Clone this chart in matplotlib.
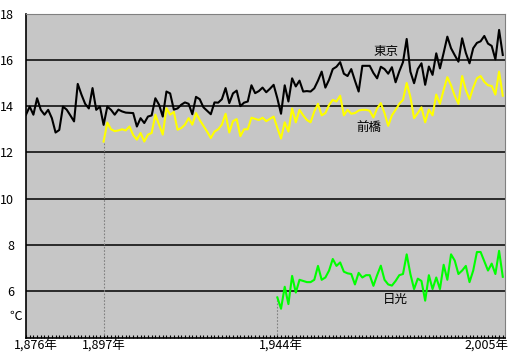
"""Annual mean temperature: Tokyo, Maebashi, Nikko (1876-2005)."""
import matplotlib
matplotlib.use("Agg")
import matplotlib.pyplot as plt
import matplotlib.transforms as mtrans
import numpy as np

plt.rcParams["font.family"] = ["Noto Sans CJK JP", "DejaVu Sans"]

BG_GRAY = "#c6c6c6"
FRAME_GRAY = "#808080"

# data
tokyo_years = np.arange(1876, 2006)
tokyo = [
    13.63, 13.98, 13.63, 14.34, 13.84, 13.63, 13.84, 13.48, 12.86, 12.97,
    13.98, 13.85, 13.60, 13.34, 14.96, 14.50, 14.10, 13.90, 14.78, 13.84,
    13.98, 13.19, 13.98, 13.84, 13.63, 13.85, 13.77, 13.72, 13.71, 13.70,
    13.12, 13.48, 13.27, 13.55, 13.60, 14.34, 14.06, 13.55, 14.63, 14.55,
    13.85, 13.90, 14.06, 14.16, 14.10, 13.65, 14.40, 14.30, 13.95, 13.80,
    13.65, 14.16, 14.15, 14.30, 14.78, 14.13, 14.55, 14.67, 14.00, 14.15,
    14.20, 14.90, 14.56, 14.65, 14.80, 14.60, 14.75, 14.92, 14.34, 13.67,
    14.90, 14.20, 15.20, 14.85, 15.10, 14.63, 14.65, 14.63, 14.77, 15.10,
    15.49, 14.80, 15.14, 15.60, 15.70, 15.90, 15.40, 15.30, 15.60, 15.10,
    14.63, 15.74, 15.74, 15.74, 15.43, 15.20, 15.70, 15.60, 15.40, 15.68,
    15.03, 15.50, 15.90, 16.90, 15.49, 14.99, 15.60, 15.85, 14.92, 15.71,
    15.35, 16.28, 15.63, 16.30, 17.00, 16.50, 16.20, 15.92, 16.93, 16.30,
    15.85, 16.50, 16.73, 16.80, 17.03, 16.70, 16.60, 16.02, 17.29, 16.21,
]
maebashi_years = np.arange(1897, 2006)
maebashi = [
    12.47, 13.29, 13.00, 12.92, 12.95, 13.00, 12.95, 13.12, 12.75,
    12.55, 12.84, 12.47, 12.77, 12.84, 13.63, 13.20, 12.77, 13.91, 13.63,
    13.75, 12.98, 13.05, 13.20, 13.48, 13.20, 13.70, 13.40, 13.15, 12.90,
    12.62, 12.90, 13.00, 13.20, 13.67, 12.86, 13.35, 13.44, 12.70, 13.00,
    13.00, 13.50, 13.45, 13.40, 13.50, 13.35, 13.45, 13.55, 13.06, 12.60,
    13.30, 12.90, 13.90, 13.30, 13.84, 13.60, 13.40, 13.30, 13.77, 14.10,
    13.60, 13.70, 14.05, 14.27, 14.20, 14.45, 13.60, 13.84, 13.67, 13.70,
    13.81, 13.84, 13.84, 13.80, 13.51, 13.90, 14.13, 13.70, 13.15, 13.60,
    13.84, 14.10, 14.27, 15.00, 14.40, 13.48, 13.70, 13.95, 13.30, 13.85,
    13.60, 14.50, 14.10, 14.70, 15.25, 14.90, 14.45, 14.10, 15.30, 14.70,
    14.30, 14.80, 15.20, 15.30, 15.05, 14.90, 14.87, 14.50, 15.49, 14.45,
]
nikko_years = np.arange(1944, 2006)
nikko = [
    5.74, 5.25,
    6.20, 5.45, 6.67, 5.95, 6.50, 6.45, 6.40, 6.40, 6.50, 7.10,
    6.50, 6.60, 6.90, 7.40, 7.10, 7.25, 6.85, 6.78, 6.75, 6.30,
    6.80, 6.60, 6.70, 6.70, 6.24, 6.70, 7.11, 6.50, 6.30, 6.25,
    6.45, 6.70, 6.75, 7.60, 6.75, 6.10, 6.55, 6.45, 5.60, 6.70,
    6.10, 6.60, 6.10, 7.15, 6.50, 7.60, 7.33, 6.75, 6.90, 7.10,
    6.40, 6.90, 7.70, 7.70, 7.30, 6.90, 7.20, 6.75, 7.75, 6.63,
]

x_ticks = [1876, 1897, 1944, 2005]
x_tick_labels = ["1,876年", "1,897年", "1,944年", "2,005年"]
y_ticks = [6, 8, 10, 12, 14, 16, 18]

fig = plt.figure(figsize=(5.09, 3.55), dpi=100)
ax = fig.add_axes([26 / 509, 17.3 / 355, 479 / 509, (337.7 - 13.5) / 355])
ax.set_facecolor(BG_GRAY)
ax.set_xlim(1876, 2005.6)
ax.set_ylim(4, 18)

for v in y_ticks[:-1]:
    ax.axhline(v, color="black", lw=1.1, zorder=1)

# dotted drop lines where a station's record begins
for yrs, vals in ((maebashi_years, maebashi), (nikko_years, nikko)):
    ax.vlines(yrs[0], 4, vals[0], colors=FRAME_GRAY, linestyles=(0, (1.5, 1.5)),
              lw=0.8, zorder=1.5)

ax.plot(tokyo_years, tokyo, color="black", lw=1.5, zorder=3)
ax.plot(maebashi_years, maebashi, color="#ffff00", lw=1.5, zorder=3)
ax.plot(nikko_years, nikko, color="#00ff00", lw=1.5, zorder=3)

ax.text(1973.3, 16.34, "東京", fontsize=9, ha="center", va="center")
ax.text(1968.8, 13.09, "前橋", fontsize=9, ha="center", va="center")
ax.text(1975.8, 5.67, "日光", fontsize=9, ha="center", va="center")

ax.set_yticks(y_ticks)
ax.set_yticklabels([str(v) for v in y_ticks], fontsize=9)
ax.tick_params(axis="y", length=0, pad=8.5)
ax.text(-0.021, 4.9, "℃", fontsize=9, ha="center", va="center",
        transform=mtrans.blended_transform_factory(ax.transAxes, ax.transData))

ax.set_xticks(x_ticks)
ax.set_xticklabels(x_tick_labels, fontsize=9)
ax.set_xticks(np.arange(1876, 2006), minor=True)
ax.tick_params(axis="x", which="both", direction="in", length=2.5, width=0.8,
               pad=1)
shifts = [10, 0, 4, -16]
for lab, dx in zip(ax.get_xticklabels(), shifts):
    lab.set_transform(lab.get_transform() +
                      mtrans.ScaledTranslation(dx / 100, 0, fig.dpi_scale_trans))

for side in ("top", "right"):
    ax.spines[side].set_color(FRAME_GRAY)
for side in ("left", "bottom"):
    ax.spines[side].set_color("black")
    ax.spines[side].set_linewidth(1.2)

fig.savefig("out.png", dpi=100)
